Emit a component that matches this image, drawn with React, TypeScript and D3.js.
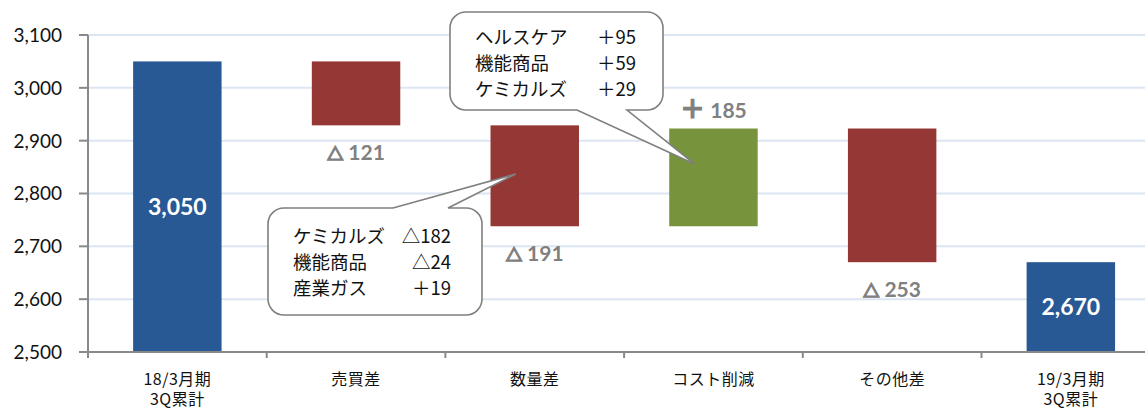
import React from "react";
import * as d3 from "d3";

// waterfall data (億円)
const categories = ["18/3月期\n3Q累計", "売買差", "数量差", "コスト削減", "その他差", "19/3月期\n3Q累計"];
const kinds = ["total", "delta", "delta", "delta", "delta", "total"];
const values = [3050, -121, -191, 185, -253, 2670];
const yTicks = [2500, 2600, 2700, 2800, 2900, 3000, 3100];

// callout contents
const calloutVolume = [
  { name: "ケミカルズ", value: "△182" },
  { name: "機能商品", value: "△24" },
  { name: "産業ガス", value: "＋19" },
];
const calloutCost = [
  { name: "ヘルスケア", value: "＋95" },
  { name: "機能商品", value: "＋59" },
  { name: "ケミカルズ", value: "＋29" },
];

const W = 1145;
const H = 411;
const JP = "'Noto Sans CJK JP', sans-serif";
const NUM = "Lato, 'Noto Sans CJK JP', sans-serif";

const COLORS = { total: "#285994", down: "#953735", up: "#77933c" };

// rounded box with a pointer notch on the top or bottom edge
function calloutPath(
  x0: number, y0: number, x1: number, y1: number, r: number,
  side: "top" | "bottom", n0: number, n1: number, tx: number, ty: number
) {
  const p = d3.path();
  p.moveTo(x0 + r, y0);
  if (side === "top") {
    p.lineTo(n0, y0);
    p.lineTo(tx, ty);
    p.lineTo(n1, y0);
  }
  p.lineTo(x1 - r, y0);
  p.arcTo(x1, y0, x1, y0 + r, r);
  p.lineTo(x1, y1 - r);
  p.arcTo(x1, y1, x1 - r, y1, r);
  if (side === "bottom") {
    p.lineTo(n1, y1);
    p.lineTo(tx, ty);
    p.lineTo(n0, y1);
  }
  p.lineTo(x0 + r, y1);
  p.arcTo(x0, y1, x0, y1 - r, r);
  p.lineTo(x0, y0 + r);
  p.arcTo(x0, y0, x0 + r, y0, r);
  p.closePath();
  return p.toString();
}

export default function App() {
  const left = 88;
  const x = d3.scaleBand<string>().domain(categories).range([left, left + 6 * 178.7]).padding(0);
  const y = d3.scaleLinear().domain([2500, 3100]).range([352, 35]);
  const barW = x.bandwidth() * 0.495;

  let run = 0;
  const bars = categories.map((c, i) => {
    const v = values[i];
    let lo: number, hi: number, color: string;
    if (kinds[i] === "total") {
      lo = 2500;
      hi = v;
      run = v;
      color = COLORS.total;
    } else {
      const next = run + v;
      lo = Math.min(run, next);
      hi = Math.max(run, next);
      color = v < 0 ? COLORS.down : COLORS.up;
      run = next;
    }
    return { c, v, lo, hi, color, kind: kinds[i], cx: (x(c) || 0) + x.bandwidth() / 2 };
  });

  const xEnd = x.range()[1];

  const volBar = bars[2];
  const costBar = bars[3];
  const tip1 = { x: volBar.cx - 19, y: y(2837) };
  const tip2 = { x: costBar.cx - 19, y: y(2856) };

  return (
    <div style={{ position: "absolute", left: 0, top: 0 }}>
      <svg width={W} height={H} style={{ display: "block", background: "#fff" }}>
        {/* gridlines */}
        {yTicks.slice(1).map((t) => (
          <line key={t} x1={left} x2={W} y1={y(t)} y2={y(t)} stroke="#dce6f2" strokeWidth={2} />
        ))}

        {/* bars */}
        {bars.map((b) => (
          <rect key={b.c} x={b.cx - barW / 2} y={y(b.hi)} width={barW} height={y(b.lo) - y(b.hi)} fill={b.color} />
        ))}

        {/* axes */}
        <line x1={left} x2={left} y1={y(3100)} y2={y(2500)} stroke="#898989" strokeWidth={2} />
        <line x1={left - 9} x2={xEnd} y1={y(2500)} y2={y(2500)} stroke="#898989" strokeWidth={2} />
        {yTicks.map((t) => (
          <g key={t}>
            <line x1={left - 9} x2={left} y1={y(t)} y2={y(t)} stroke="#898989" strokeWidth={2} />
            <text x={62} y={y(t)} dy="0.36em" textAnchor="end" fontFamily={NUM} fontSize={19} fill="#111">
              {d3.format(",")(t)}
            </text>
          </g>
        ))}
        {categories.map((c) => (
          <line key={c} x1={x(c) || 0} x2={x(c) || 0} y1={y(2500)} y2={y(2500) + 6}
            stroke="#898989" strokeWidth={2} />
        ))}

        {/* category labels */}
        {bars.map((b) => (
          <text key={b.c} x={b.cx} textAnchor="middle" fontFamily={JP} fontSize={16} fill="#111">
            {b.c.split("\n").map((line, j) => (
              <tspan key={j} x={b.cx} y={385 + j * 20} letterSpacing={0.5}>
                {line}
              </tspan>
            ))}
          </text>
        ))}

        {/* value labels */}
        {bars.map((b) =>
          b.kind === "total" ? (
            <text key={b.c} x={b.cx} y={(y(b.hi) + y(b.lo)) / 2} dy="0.36em"
              textAnchor="middle" fontFamily={NUM} fontWeight="bold" fontSize={23} fill="#fff">
              {d3.format(",")(b.v)}
            </text>
          ) : (
            <text key={b.c} x={b.cx} y={b.v < 0 ? y(b.lo) + 35 : y(b.hi) - 11}
              textAnchor="middle" fontFamily={NUM} fontWeight="bold" fontSize={21} fill="#808080">
              {b.v < 0 ? (
                <tspan fontFamily={JP} fontSize={16} stroke="#808080" strokeWidth={1.6}>△</tspan>
              ) : (
                <tspan fontFamily={JP} fontSize={25} stroke="#808080" strokeWidth={1.2}>＋</tspan>
              )}
              {" " + Math.abs(b.v)}
            </text>
          )
        )}

        {/* callout: 数量差 breakdown */}
        <path d={calloutPath(268, 208, 482, 315, 16, "top", 393, 448, tip1.x, tip1.y)}
          fill="#fff" stroke="#7f7f7f" strokeWidth={1.6} />
        {calloutVolume.map((r, i) => (
          <g key={i} fontFamily={JP} fontSize={18.5} fill="#111">
            <text x={293} y={243 + i * 26}>{r.name}</text>
            <text x={451} y={243 + i * 26} textAnchor="end">{r.value}</text>
          </g>
        ))}

        {/* callout: コスト削減 breakdown */}
        <path d={calloutPath(450, 12, 663, 110, 16, "bottom", 577, 627, tip2.x, tip2.y)}
          fill="#fff" stroke="#7f7f7f" strokeWidth={1.6} />
        {calloutCost.map((r, i) => (
          <g key={i} fontFamily={JP} fontSize={18.5} fill="#111">
            <text x={475} y={44 + i * 26}>{r.name}</text>
            <text x={636} y={44 + i * 26} textAnchor="end">{r.value}</text>
          </g>
        ))}
      </svg>
    </div>
  );
}
